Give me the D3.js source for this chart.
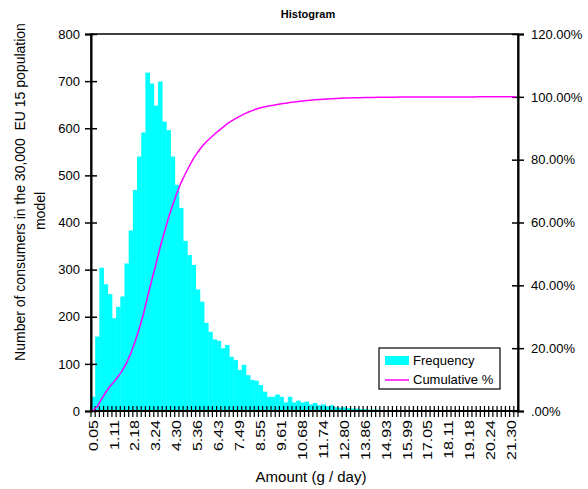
<!DOCTYPE html>
<html lang="en">
<head>
<meta charset="UTF-8" />
<title>Histogram</title>
<style>
  body { margin: 0; background: #fff; }
  svg text { font-family: "Liberation Sans", Arial, sans-serif; fill: #000; white-space: pre; }
</style>
</head>
<body>
<svg width="588" height="489"></svg>
<script src="https://cdn.jsdelivr.net/npm/d3@7"></script>
<script>
// consumers per amount bin (102 bins, 0.05 g/day upward)
var frequency = [
    30, 158, 304, 269, 248, 197, 221, 243, 313, 383,
    469, 540, 591, 718, 695, 648, 699, 614, 596, 540,
    480, 431, 361, 331, 310, 258, 232, 187, 168, 152,
    149, 133, 140, 115, 108, 87, 98, 76, 66, 64,
    55, 41, 30, 30, 35, 30, 18, 30, 18, 22,
    18, 20, 14, 17, 12, 14, 10, 12, 8, 7,
    8, 6, 5, 5, 4, 4, 3, 3, 3, 2,
    2, 2, 1, 2, 1, 1, 1, 1, 0, 1,
    1, 0, 1, 0, 1, 0, 0, 1, 0, 0,
    0, 0, 1, 0, 0, 0, 0, 0, 0, 0,
    1, 0
];

// cumulative % per bin
var cumulative = [
    0.23, 1.45, 3.81, 5.89, 7.81, 9.33, 11.04, 12.92, 15.34, 18.31,
    21.94, 26.11, 30.69, 36.24, 41.62, 46.63, 52.04, 56.79, 61.41, 65.58,
    69.30, 72.63, 75.43, 77.99, 80.39, 82.38, 84.18, 85.62, 86.92, 88.10,
    89.25, 90.28, 91.36, 92.25, 93.09, 93.76, 94.52, 95.11, 95.62, 96.12,
    96.54, 96.86, 97.09, 97.32, 97.59, 97.83, 97.96, 98.20, 98.34, 98.51,
    98.65, 98.80, 98.91, 99.04, 99.13, 99.24, 99.32, 99.41, 99.47, 99.53,
    99.59, 99.64, 99.68, 99.71, 99.74, 99.78, 99.80, 99.82, 99.85, 99.86,
    99.88, 99.89, 99.90, 99.91, 99.92, 99.93, 99.94, 99.95, 99.95, 99.95,
    99.96, 99.96, 99.97, 99.97, 99.98, 99.98, 99.98, 99.98, 99.98, 99.98,
    99.98, 99.98, 99.99, 99.99, 99.99, 99.99, 99.99, 99.99, 99.99, 99.99,
    100.00, 100.00
];

// one label every 5 bins
var tickLabels = ["0.05", "1.11", "2.18", "3.24", "4.30", "5.36", "6.43", "7.49", "8.55", "9.61",
    "10.68", "11.74", "12.80", "13.86", "14.93", "15.99", "17.05", "18.11", "19.18", "20.24", "21.30"];
var labelEvery = 5;

var countTicks = [0, 100, 200, 300, 400, 500, 600, 700, 800];
var pctTicks = [0, 20, 40, 60, 80, 100, 120];

var svg = d3.select("svg"),
    margin = {top: 34, right: 70, bottom: 78, left: 91},
    width = +svg.attr("width") - margin.left - margin.right,
    height = +svg.attr("height") - margin.top - margin.bottom,
    g = svg.append("g").attr("transform", "translate(" + margin.left + "," + margin.top + ")");

var x = d3.scaleBand()
    .domain(d3.range(frequency.length))
    .range([0, width])
    .padding(0);

var y = d3.scaleLinear().domain([0, 800]).range([height, 0]);
var yPct = d3.scaleLinear().domain([0, 120]).range([height, 0]);

var bw = x.bandwidth();

// bars
g.append("g")
    .selectAll("rect")
    .data(frequency)
    .enter().append("rect")
    .attr("x", function(d, i) { return x(i); })
    .attr("y", function(d) { return y(d); })
    .attr("width", bw + 0.4)
    .attr("height", function(d) { return height - y(d); })
    .attr("fill", "#00ffff");

// plot frame
g.append("rect")
    .attr("width", width)
    .attr("height", height)
    .attr("fill", "none")
    .attr("stroke", "#000")
    .attr("stroke-width", 1.5);

// category ticks on the x axis (at bin edges, crossing the axis)
g.append("g")
    .selectAll("line")
    .data(d3.range(frequency.length + 1))
    .enter().append("line")
    .attr("x1", function(i) { return i < frequency.length ? x(i) : width; })
    .attr("x2", function(i) { return i < frequency.length ? x(i) : width; })
    .attr("y1", height - 5)
    .attr("y2", height + 6)
    .attr("stroke", "#000")
    .attr("stroke-width", 1.2);

g.append("line")
    .attr("x1", 0).attr("x2", width)
    .attr("y1", height).attr("y2", height)
    .attr("stroke", "#000").attr("stroke-width", 2);

// rotated x labels
g.append("g")
    .selectAll("text")
    .data(tickLabels)
    .enter().append("text")
    .attr("transform", function(d, j) {
        return "translate(" + (x(j * labelEvery) + bw / 2) + "," + (height + 9) + ") rotate(-90) scale(1,0.8)";
    })
    .attr("text-anchor", "end")
    .attr("dy", "0.35em")
    .style("font-size", "16px")
    .text(function(d) { return d; });

// left axis
var left = g.append("g")
    .call(d3.axisLeft(y).tickValues(countTicks).tickSize(6).tickPadding(5));
left.select(".domain").attr("stroke-width", 2);
left.selectAll(".tick line").attr("x1", 6).attr("stroke-width", 1.5);
left.selectAll("text").style("font-size", "13px").style("font-family", "Liberation Sans, Arial, sans-serif");

// right axis
var right = g.append("g")
    .attr("transform", "translate(" + width + ",0)")
    .call(d3.axisRight(yPct).tickValues(pctTicks).tickSize(6).tickPadding(7)
        .tickFormat(function(d) { return d === 0 ? ".00%" : d.toFixed(2) + "%"; }));
right.select(".domain").attr("stroke-width", 2);
right.selectAll(".tick line").attr("x1", -6).attr("stroke-width", 1.5);
right.selectAll("text").style("font-size", "13px").style("font-family", "Liberation Sans, Arial, sans-serif");

// cumulative % line
g.append("path")
    .datum(cumulative)
    .attr("fill", "none")
    .attr("stroke", "#ff00ff")
    .attr("stroke-width", 1.5)
    .attr("d", d3.line()
        .x(function(d, i) { return x(i) + bw / 2; })
        .y(function(d) { return yPct(d); }));

// titles
svg.append("text")
    .attr("x", 308)
    .attr("y", 18)
    .attr("text-anchor", "middle")
    .style("font-size", "11px")
    .style("font-weight", "bold")
    .text("Histogram");

svg.append("text")
    .attr("x", 311)
    .attr("y", 482)
    .attr("text-anchor", "middle")
    .style("font-size", "15px")
    .text("Amount (g / day)");

svg.append("text")
    .attr("transform", "translate(20,192) rotate(-90)")
    .attr("text-anchor", "middle")
    .attr("dy", "0.35em")
    .style("font-size", "14px")
    .text("Number of consumers in the 30,000  EU 15 population");

svg.append("text")
    .attr("transform", "translate(40,211) rotate(-90)")
    .attr("text-anchor", "middle")
    .attr("dy", "0.35em")
    .style("font-size", "14px")
    .text("model");

// legend
var legend = svg.append("g").attr("transform", "translate(379,348)");

legend.append("rect")
    .attr("width", 121)
    .attr("height", 41)
    .attr("fill", "#fff")
    .attr("stroke", "#000")
    .attr("stroke-width", 1.2);

legend.append("rect")
    .attr("x", 6).attr("y", 8)
    .attr("width", 24).attr("height", 9)
    .attr("fill", "#00ffff");

legend.append("line")
    .attr("x1", 6).attr("x2", 30)
    .attr("y1", 32).attr("y2", 32)
    .attr("stroke", "#ff00ff")
    .attr("stroke-width", 1.5);

legend.append("text")
    .attr("x", 34).attr("y", 17)
    .style("font-size", "13px")
    .text("Frequency");

legend.append("text")
    .attr("x", 34).attr("y", 36)
    .style("font-size", "13px")
    .text("Cumulative %");
</script>
</body>
</html>
